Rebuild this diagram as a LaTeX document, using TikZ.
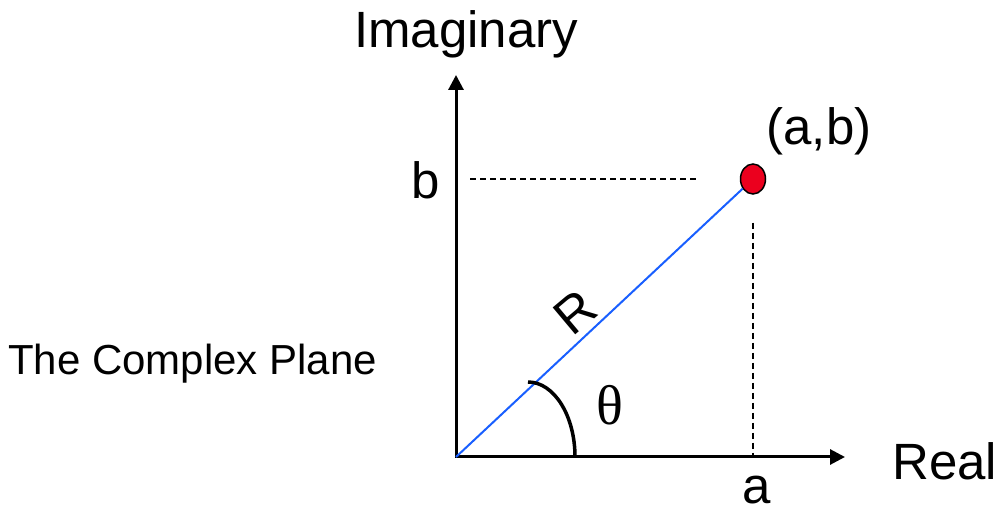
\documentclass[tikz,border=0pt]{standalone}
\usepackage{fontspec}
\setmainfont{Liberation Sans}
\newfontfamily\thetafont{Liberation Serif}
\usepackage{tikz}
\usetikzlibrary{positioning, shapes, arrows.meta}
\definecolor{lineblue}{RGB}{25,95,255}
\definecolor{dotred}{RGB}{235,0,30}
\tikzset{
	axis/.style={line width=3pt, {Triangle[length=15pt, width=15pt]}-{Triangle[length=15pt, width=15pt]}},
	guide/.style={line width=1.5pt, dash pattern=on 6pt off 4pt},
	biglabel/.style={font=\fontsize{51}{51}\selectfont, inner sep=0pt},
}

\begin{document}
\begin{tikzpicture}[x=1pt, y=1pt]
	\useasboundingbox (0,0) rectangle (999,514);
	% Axes:
	\coordinate (O) at (456, 57);
	\coordinate (Ytip) at (456, 439);
	\coordinate (Xtip) at (845, 57);
	\draw[axis] (Ytip) -- (O) -- (Xtip);
	% Point (a,b) and radius:
	\node[ellipse, draw, line width=1.5pt, fill=dotred, minimum width=25pt, minimum height=30pt, inner sep=0pt] (P) at (753, 335){};
	\draw[lineblue, line width=2pt] (O) -- (P);
	% Dashed guides:
	\coordinate (Bstart) at ([xshift=14pt]O |- P);
	\coordinate (Bend) at ([xshift=-40pt]P.west);
	\draw[guide] (Bstart) -- (Bend);
	\coordinate (Atop) at ([yshift=-28pt]P.south);
	\draw[guide] (Atop) -- (P |- O);
	% Angle:
	\coordinate (Arcstart) at (528, 132);
	\draw[line width=3.5pt] (Arcstart) arc[start angle=90, end angle=0, x radius=47, y radius=75];
	% Labels:
	\node[biglabel, anchor=base] (imag) at (466, 466){Imaginary};
	\node[biglabel, anchor=base west] (real) at (892, 34){Real};
	\node[biglabel, anchor=base] (a) at (757, 10){a};
	\node[biglabel, anchor=base] (b) at (426, 315){b};
	\node[biglabel, anchor=base] (ab) at (819, 369){(a,b)};
	\node[biglabel, rotate=40] (R) at (575, 202){R};
	\node[font=\thetafont\fontsize{56}{56}\selectfont, inner sep=0pt] (theta) at (610, 109){θ};
	\node[font=\fontsize{42}{42}\selectfont, anchor=base west, inner sep=0pt] (title) at (8, 139){The Complex Plane};
\end{tikzpicture}
\end{document}
